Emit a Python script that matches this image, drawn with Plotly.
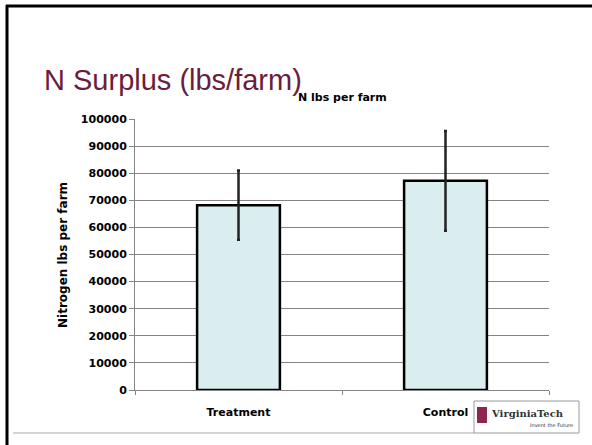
import plotly.graph_objects as go

categories = ["Treatment", "Control"]
values = [68200, 77200]
errors = [12800, 18400]
y_ticks = list(range(0, 100001, 10000))

W, H = 592, 445
L, R, T, B = 135, 549, 119, 390  # plot area in pixels


def px(x):
    return (x - L) / (R - L)


def py(y):
    return (B - y) / (B - T)


fig = go.Figure()
fig.add_trace(go.Bar(
    x=categories, y=values,
    marker=dict(color="#DAEEF0", line=dict(color="#000000", width=2.5)),
    error_y=dict(type="data", array=errors, visible=True,
                 color="#222222", thickness=2.5, width=1.5),
    showlegend=False,
))

GRID = "#858585"
fig.update_layout(
    width=W, height=H,
    margin=dict(l=L, r=W - R, t=T, b=H - B, pad=0),
    paper_bgcolor="white", plot_bgcolor="white",
    bargap=0.6,
    font=dict(family="DejaVu Sans", size=11, color="#000000"),
    xaxis=dict(
        showgrid=False, showline=True, linecolor=GRID, linewidth=1,
        ticks="outside", tickson="boundaries", ticklen=4, tickcolor=GRID,
        tickfont=dict(family="DejaVu Sans", size=11, weight="bold"),
        ticklabelstandoff=12,
        zeroline=False,
    ),
    yaxis=dict(
        range=[0, 100000], tickvals=y_ticks,
        ticktext=[str(v) for v in y_ticks],
        showgrid=True, gridcolor=GRID, gridwidth=1,
        showline=True, linecolor=GRID, linewidth=1,
        ticks="outside", ticklen=5, tickcolor=GRID,
        tickfont=dict(family="DejaVu Sans", size=11, weight="bold"),
        zeroline=False,
    ),
)

annotations = [
    # slide title
    dict(text="N Surplus (lbs/farm)", x=px(42), y=py(80), xanchor="left", yanchor="middle",
         font=dict(family="Liberation Sans", size=29, color="#6B1D3C")),
    # chart title
    dict(text="<b>N lbs per farm</b>", x=0.5, y=py(97), xanchor="center", yanchor="middle",
         font=dict(family="DejaVu Sans", size=11, color="#000000")),
    # y axis title
    dict(text="<b>Nitrogen lbs per farm</b>", x=px(63), y=py(255), textangle=-90,
         xanchor="center", yanchor="middle",
         font=dict(family="DejaVu Sans", size=12, color="#000000")),
    # logo text
    dict(text="<b>VirginiaTech</b>", x=px(489), y=py(413), xanchor="left", yanchor="middle",
         font=dict(family="DejaVu Serif", size=10, color="#333333")),
    dict(text="Invent the Future", x=px(575), y=py(425), xanchor="right", yanchor="middle",
         font=dict(family="DejaVu Sans", size=5, color="#333333")),
]
for a in annotations:
    a.update(xref="paper", yref="paper", showarrow=False)
fig.update_layout(annotations=annotations)

shapes = [
    # slide borders
    dict(type="line", x0=px(6), x1=px(592), y0=py(6), y1=py(6), line=dict(color="#000000", width=3)),
    dict(type="line", x0=px(7), x1=px(7), y0=py(5), y1=py(445), line=dict(color="#000000", width=3)),
    dict(type="line", x0=px(13), x1=px(474), y0=py(433), y1=py(433), line=dict(color="#D4D4D4", width=2)),
    # logo box
    dict(type="rect", x0=px(474), x1=px(579), y0=py(401), y1=py(433),
         line=dict(color="#9A9A9A", width=1), fillcolor="white"),
    dict(type="rect", x0=px(477), x1=px(487), y0=py(407), y1=py(423),
         line=dict(width=0), fillcolor="#8E2550"),
]
for s in shapes:
    s.update(xref="paper", yref="paper", layer="above")
fig.update_layout(shapes=shapes)

fig.write_html("out.html", config={"displayModeBar": False},
               post_script="document.body.style.margin='0';")
